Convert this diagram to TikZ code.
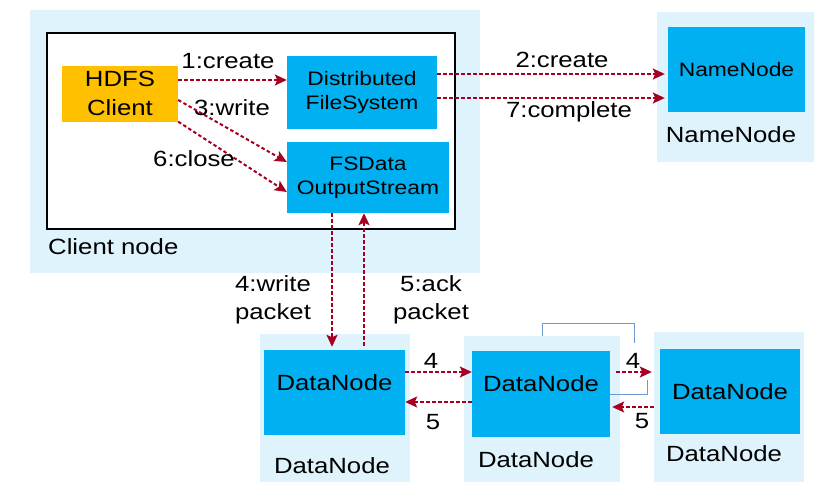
\documentclass[tikz,border=0pt]{standalone}
\usepackage{fontspec}
\setmainfont{Liberation Sans}[FakeStretch=1.17]
\usetikzlibrary{arrows.meta}
\definecolor{bgblue}{HTML}{DFF3FC}
\definecolor{boxblue}{HTML}{00B0F0}
\definecolor{clientorange}{HTML}{FFC000}
\definecolor{arrred}{HTML}{A50021}
\definecolor{lineblue}{HTML}{6F97D0}
\begin{document}
\begin{tikzpicture}[x=1pt,y=-1pt,
  big/.style={font=\fontsize{22}{28.5}\selectfont},
  small/.style={font=\fontsize{19.5}{24.5}\selectfont},
  box/.style={fill=boxblue, draw=none, inner sep=0pt, align=center},
  bg/.style={fill=bgblue, draw=none, inner sep=0pt},
  lbl/.style={big, inner sep=0pt, text height=15.75pt, text depth=0pt},
  arr/.style={draw=arrred, line width=2pt, dash pattern=on 3.5pt off 2.5pt,
    -{Stealth[length=12pt,width=11pt,inset=2.5pt]}},
  thinline/.style={draw=lineblue, line width=1pt}]
\useasboundingbox (0,0) rectangle (833,482);
\fill[white] (0,0) rectangle (833,482);

% backgrounds
\node[bg, minimum width=450pt, minimum height=263pt] (clientbg) at (255,141.5) {};
\node[bg, minimum width=157pt, minimum height=150pt] (nnbg) at (735.5,87) {};
\node[bg, minimum width=150pt, minimum height=148pt] (dn1bg) at (335,408) {};
\node[bg, minimum width=156pt, minimum height=146pt] (dn2bg) at (542,409) {};
\node[bg, minimum width=150pt, minimum height=150pt] (dn3bg) at (729,407) {};

% client frame
\draw[line width=2pt, fill=white] (47,33) rectangle (455,229);

% boxes
\node[box, fill=clientorange, big, minimum width=116pt, minimum height=56pt] (client) at (120,93.5) {HDFS\\Client};
\node[box, small, minimum width=150pt, minimum height=73pt] (dfs) at (362,92.5) {Distributed\\FileSystem};
\node[box, small, minimum width=162pt, minimum height=71pt] (fsdos) at (368,177.5) {FSData\\OutputStream};
\node[box, small, minimum width=137pt, minimum height=85pt] (nn) at (736.5,69.5) {NameNode};
\node[box, minimum width=141pt, minimum height=85pt] (dn1) at (334.5,392.5) {};
\node[box, minimum width=138pt, minimum height=86pt] (dn2) at (541,394) {};
\node[box, big, minimum width=140pt, minimum height=85pt] (dn3) at (730,391.5) {DataNode};
\node[lbl] (dn1t) at ([yshift=9.5pt]dn1.center) {DataNode};
\node[lbl] (dn2t) at ([yshift=10pt]dn2.center) {DataNode};

% container labels
\node[lbl, anchor=west] (clientlbl) at (48,246.5) {Client node};
\node[lbl] (nnlbl) at (731,135) {NameNode};
\node[lbl] (dn1lbl) at (332,466) {DataNode};
\node[lbl] (dn2lbl) at (536,460) {DataNode};
\node[lbl] (dn3lbl) at (724,453.5) {DataNode};

% client arrows
\draw[arr] ([yshift=13.5pt]client.east) coordinate (a1) -- (dfs.west |- a1);
\node[lbl] (l1) at (228,60.5) {1:create};
\draw[arr] ([yshift=-6.5pt]client.east) -- ([yshift=15.5pt]fsdos.west);
\node[lbl] (l3) at (232,107.5) {3:write};
\draw[arr] (client.south east) -- ([yshift=-14.5pt]fsdos.west);
\node[lbl] (l6) at (194,158.5) {6:close};

% namenode arrows
\draw[arr, shorten >=3pt] ([yshift=18.5pt]dfs.east) coordinate (a2) -- (nn.west |- a2);
\node[lbl] (l2) at (562,60) {2:create};
\draw[arr, shorten >=3pt] ([yshift=-5.5pt]dfs.east) coordinate (a7) -- (nn.west |- a7);
\node[lbl] (l7) at (569,110) {7:complete};

% write / ack packet
\draw[arr, shorten >=3pt] ([xshift=-36pt]fsdos.south) coordinate (a4) -- (dn1.north -| a4);
\node[big, align=center, inner sep=0pt] (l4) at (273,300) {4:write\\packet};
\draw[arr, shorten <=4pt] ([xshift=29.5pt]dn1.north) coordinate (a5) -- (fsdos.south -| a5);
\node[big, align=center, inner sep=0pt] (l5) at (431,300) {5:ack\\packet};

% datanode pipeline
\draw[arr] ([yshift=20.5pt]dn1.east) coordinate (b1) -- (dn2.west |- b1);
\node[lbl] (lb1) at (431,361) {4};
\draw[arr] ([yshift=-8pt]dn2.west) coordinate (b2) -- (dn1.east |- b2);
\node[lbl] (lb2) at (433,421.5) {5};
\draw[arr, shorten <=6pt, shorten >=8pt] ([yshift=22pt]dn2.east) coordinate (c1) -- (dn3.west |- c1);
\node[lbl] (lc1) at (633,360.5) {4};
\draw[arr, shorten <=6pt, shorten >=2pt] ([yshift=-15.5pt]dn3.west) coordinate (c2) -- (dn2.east |- c2);
\node[lbl] (lc2) at (642,421) {5};

% thin blue lines
\coordinate (t1) at (634,323);
\coordinate (t2) at (634,343);
\coordinate (u1) at (647,394);
\coordinate (u2) at (647,380);
\draw[thinline] (dn2bg.north) -- (dn2bg.north |- t1) -- (t1) -- (t2);
\draw[thinline] (dn2.east) -- (u1) -- (u2);
\end{tikzpicture}
\end{document}
